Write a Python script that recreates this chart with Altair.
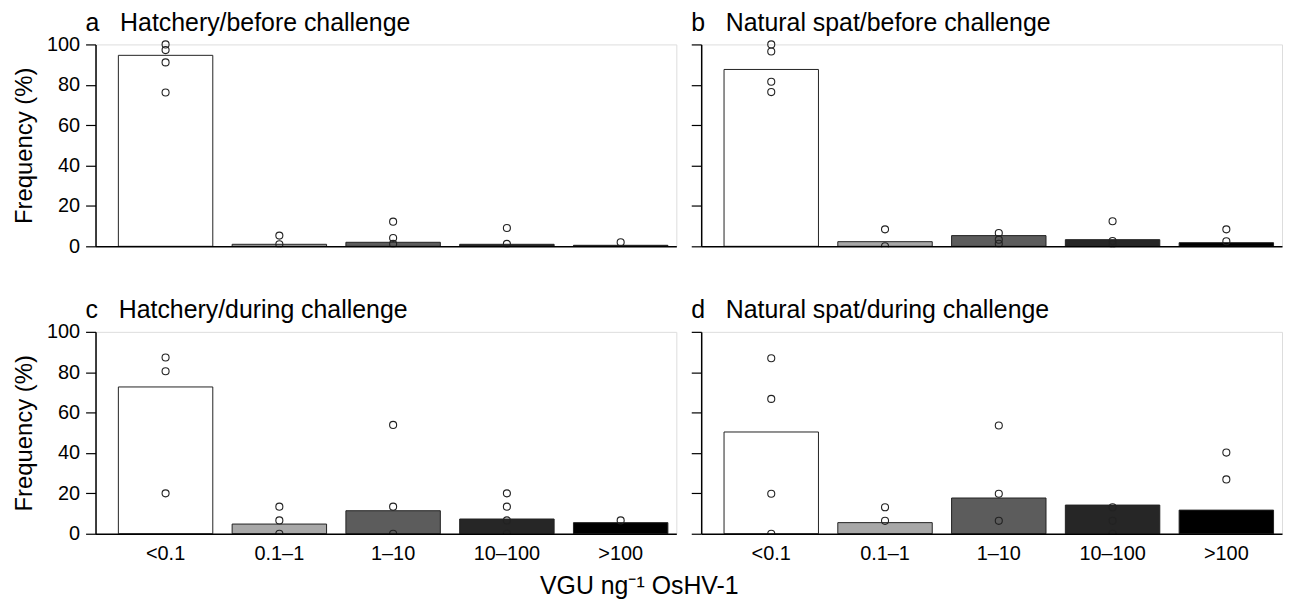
import altair as alt
import pandas as pd

FONT = "Liberation Sans"

categories = ["<0.1", "0.1–1", "1–10", "10–100", ">100"]
fills = ["#ffffff", "#a8a8a8", "#5c5c5c", "#262626", "#000000"]

panel_letters = ["a", "b", "c", "d"]
panel_names = ["Hatchery/before challenge", "Natural spat/before challenge",
               "Hatchery/during challenge", "Natural spat/during challenge"]

# bar heights (%) per category
bars_a = [94.6, 1.0, 2.0, 1.0, 0.5]
bars_b = [87.6, 2.3, 5.3, 3.3, 1.8]
bars_c = [72.7, 4.8, 11.4, 7.3, 5.5]
bars_d = [50.4, 5.5, 17.7, 14.2, 11.7]

# individual replicate points (%) per category
pts_a = [[100, 97.2, 91.1, 76.2], [5.3, 1.0], [12.2, 4.1, 1.2], [9.1, 1.2], [2.0]]
pts_b = [[100, 96.5, 81.5, 76.4], [8.4, 0], [6.6, 3.3, 1.3], [12.4, 2.6, 1.0], [8.4, 2.5]]
pts_c = [[87.3, 80.5, 20.0], [13.4, 6.6, 0], [53.9, 13.4, 0], [20.0, 13.4, 6.6, 0], [6.6]]
pts_d = [[86.9, 66.8, 19.8, 0], [13.1, 6.4], [53.6, 19.8, 6.4], [13.1, 6.4, 0], [40.2, 26.9]]

y_ticks = [0, 20, 40, 60, 80, 100]
x_title = "VGU ng\u207b\u00b9 OsHV-1"
y_title = "Frequency (%)"

W, H = 584, 203


def panel(letter, name, bars, pts, left, bottom):
    bar_df = pd.DataFrame({"category": categories, "value": bars})
    pt_rows = []
    for cat, vals in zip(categories, pts):
        for v in vals:
            pt_rows.append({"category": cat, "value": v})
    pt_df = pd.DataFrame(pt_rows)
    title_df = pd.DataFrame({"t": [letter + "\u00a0\u00a0\u00a0" + name]})

    xscale = alt.Scale(domain=categories, paddingInner=0.17, paddingOuter=0.1375, align=0.73)
    yscale = alt.Scale(domain=[0, 100], nice=False)
    xaxis = alt.Axis(
        title=None, ticks=False, labels=bottom, labelFontSize=20, labelPadding=10,
        labelColor="black", domainColor="black", domainWidth=1.5, labelAngle=0,
        labelFont=FONT, zindex=1,
    )
    yaxis = alt.Axis(
        title=y_title if left else None, values=y_ticks, labels=left,
        labelFontSize=20, labelFont=FONT, labelColor="black", labelPadding=6,
        tickSize=10, tickColor="black", tickWidth=1.2, domainColor="black",
        domainWidth=1.5, grid=False, titleFontSize=24, titleFont=FONT,
        titleFontWeight="normal", titleColor="black", titlePadding=10, zindex=1,
    )

    b = alt.Chart(bar_df).mark_bar(stroke="#222222", strokeWidth=1).encode(
        x=alt.X("category:N", sort=categories, scale=xscale, axis=xaxis),
        y=alt.Y("value:Q", scale=yscale, axis=yaxis),
        color=alt.Color("category:N", scale=alt.Scale(domain=categories, range=fills), legend=None),
    )
    p = alt.Chart(pt_df).mark_point(
        shape="circle", filled=False, size=50, color="#222222", strokeWidth=1.1, opacity=1
    ).encode(
        x=alt.X("category:N", sort=categories, scale=xscale),
        y=alt.Y("value:Q", scale=yscale),
    )
    mask = alt.Chart(title_df).mark_rect(color="white").encode(
        x=alt.value(0), x2=alt.value(W), y=alt.value(H + 1), y2=alt.value(H + 5)
    )
    t = alt.Chart(title_df).mark_text(
        align="left", baseline="alphabetic", fontSize=25, font=FONT, color="black"
    ).encode(x=alt.value(-10), y=alt.value(-14), text="t:N")
    return alt.layer(b, p, mask, t).properties(width=W, height=H)


pa = panel(panel_letters[0], panel_names[0], bars_a, pts_a, True, False)
pb = panel(panel_letters[1], panel_names[1], bars_b, pts_b, False, False)
pc = panel(panel_letters[2], panel_names[2], bars_c, pts_c, True, True)
pd_ = panel(panel_letters[3], panel_names[3], bars_d, pts_d, False, True)

row1 = alt.hconcat(pa, pb, spacing=12)
row2 = alt.hconcat(pc, pd_, spacing=12)

chart = alt.vconcat(row1, row2, spacing=40).properties(
    title=alt.TitleParams(
        x_title, orient="bottom", anchor="middle", fontSize=25, font=FONT,
        fontWeight="normal", color="black", offset=10, dx=-8,
    ),
    padding={"left": 4, "top": 0, "right": 0, "bottom": 0},
).configure_view(stroke=None).configure(background="white")

chart.save("out.html", embed_options={"renderer": "svg", "actions": False})
